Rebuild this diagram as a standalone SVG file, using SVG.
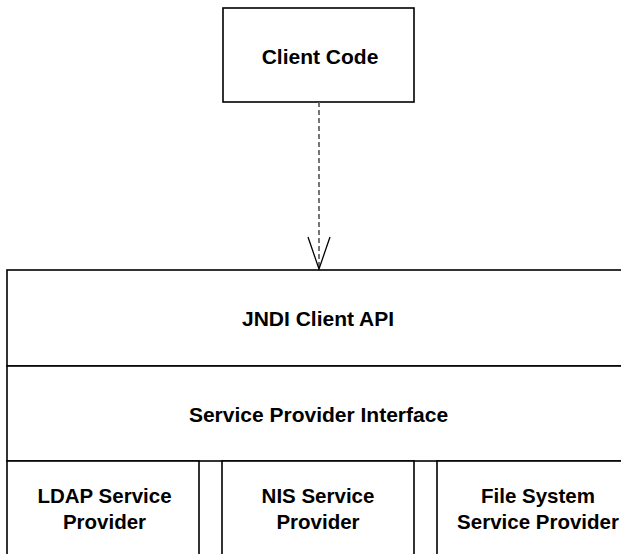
<svg xmlns="http://www.w3.org/2000/svg" width="621" height="554" viewBox="0 0 621 554">
<style>
.box{fill:#fff;stroke:#000;stroke-width:1.6}
.ln{stroke:#000;stroke-width:1.3;fill:none}
.t{font-family:"Liberation Sans",Arial,sans-serif;font-weight:bold;font-size:21px;text-anchor:middle;fill:#000}
.s{font-size:20.5px}
.dash{stroke:#555;stroke-width:1.6;stroke-dasharray:5,3;fill:none}
</style>
<rect width="621" height="554" fill="#fff"/>
<g id="client-code">
<rect class="box" x="223" y="8" width="191" height="94"/>
<text class="t" x="320" y="64">Client Code</text>
</g>
<g id="jndi-client-api">
<rect class="box" x="7" y="270" width="660" height="96"/>
<text class="t" x="318" y="326">JNDI Client API</text>
</g>
<g id="service-provider-interface">
<rect class="box" x="7" y="366" width="660" height="95"/>
<text class="t" x="318.5" y="422">Service Provider Interface</text>
</g>
<g id="ldap-service-provider">
<rect class="box" x="7" y="461" width="192" height="110"/>
<text class="t s" x="104.5" y="503">LDAP Service</text>
<text class="t s" x="104.5" y="529">Provider</text>
</g>
<g id="nis-service-provider">
<rect class="box" x="222" y="461" width="192" height="110"/>
<text class="t s" x="318" y="503">NIS Service</text>
<text class="t s" x="318" y="529">Provider</text>
</g>
<g id="file-system-service-provider">
<rect class="box" x="437" y="461" width="220" height="110"/>
<text class="t s" x="538" y="503">File System</text>
<text class="t s" x="538" y="529">Service Provider</text>
</g>
<g id="connectors">
<line class="dash" x1="319" y1="102" x2="319" y2="269"/>
<polyline class="ln" points="308,237 319,269 330,237"/>
</g>
</svg>
